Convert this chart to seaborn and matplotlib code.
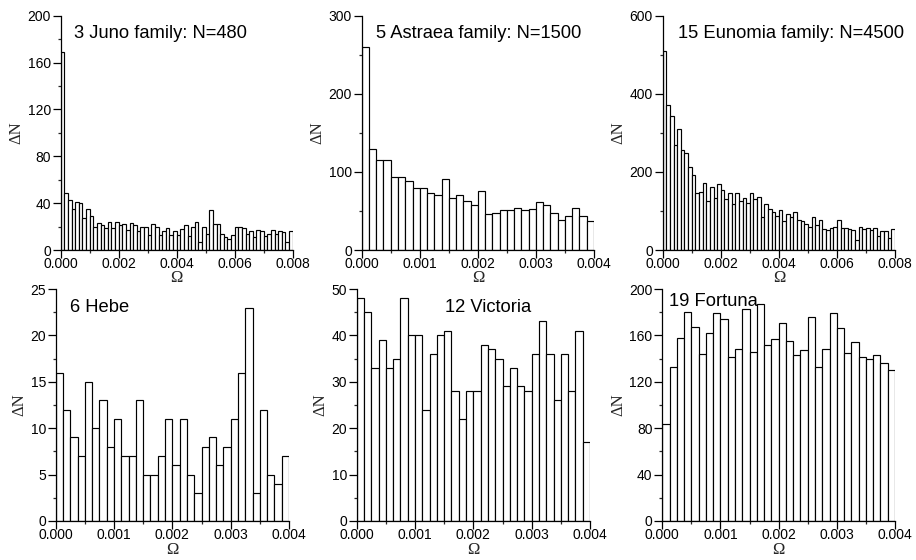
import numpy as np
import pandas as pd
import matplotlib
matplotlib.use("Agg")
import matplotlib.pyplot as plt
from matplotlib.ticker import MultipleLocator, FormatStrFormatter
import seaborn as sns

# ---------------- data (counts per bin) ----------------
juno_counts = [169, 49, 43, 35, 41, 40, 27, 35, 29, 20, 23, 21, 19, 24, 19, 24,
               21, 22, 17, 23, 21, 16, 20, 20, 13, 22, 20, 13, 16, 19, 13, 16,
               13, 18, 21, 12, 20, 24, 7, 20, 14, 34, 22, 22, 14, 11, 9, 13,
               20, 20, 19, 14, 16, 11, 17, 16, 12, 14, 17, 14, 16, 15, 7, 16]
astraea_counts = [260, 129, 115, 115, 94, 94, 88, 80, 79, 73, 70, 91, 67, 70, 63, 57,
                  75, 46, 47, 51, 51, 54, 51, 53, 61, 58, 48, 39, 43, 54, 43, 37]
eunomia_counts = [510, 372, 343, 268, 311, 257, 249, 213, 192, 146, 149, 172, 126, 161, 133, 170,
                  153, 130, 145, 118, 145, 125, 133, 120, 146, 130, 135, 85, 117, 106, 98, 88,
                  103, 74, 91, 84, 97, 76, 73, 66, 58, 85, 65, 76, 53, 51, 56, 59,
                  76, 56, 56, 53, 50, 26, 58, 55, 56, 52, 56, 36, 48, 48, 31, 53]
hebe_counts = [16, 12, 9, 7, 15, 10, 13, 8, 11, 7, 7, 13, 5, 5, 7, 11,
               6, 11, 5, 3, 8, 9, 6, 8, 11, 16, 23, 3, 12, 5, 4, 7]
victoria_counts = [48, 45, 33, 39, 33, 35, 48, 40, 40, 24, 36, 40, 41, 28, 22, 28,
                   28, 38, 37, 35, 29, 33, 29, 28, 36, 43, 36, 26, 36, 28, 41, 17]
fortuna_counts = [84, 133, 158, 180, 167, 144, 162, 179, 174, 141, 148, 183, 146, 187, 152, 157,
                  171, 155, 143, 147, 176, 133, 148, 179, 166, 145, 154, 141, 140, 143, 136, 130]

titles = ["3 Juno family: N=480", "5 Astraea family: N=1500", "15 Eunomia family: N=4500",
          "6 Hebe", "12 Victoria", "19 Fortuna"]
omega_max = [0.008, 0.004, 0.008, 0.004, 0.004, 0.004]
y_max = [200, 300, 600, 25, 50, 200]
y_major = [40, 100, 200, 5, 10, 40]
x_major = [0.002, 0.001, 0.002, 0.001, 0.001, 0.001]
all_counts = [juno_counts, astraea_counts, eunomia_counts,
              hebe_counts, victoria_counts, fortuna_counts]

# ---------------- layout (pixels) ----------------
W, H = 916, 560
sns.set_style("ticks")
plt.rcParams["font.family"] = ["Liberation Sans", "DejaVu Sans"]
plt.rcParams["axes.linewidth"] = 0.9

fig = plt.figure(figsize=(W / 100, H / 100), dpi=100)

rects_px = [
    (60.7, 15.7, 232.0, 234.3),
    (361.7, 15.7, 232.3, 234.3),
    (662.7, 15.7, 232.3, 234.3),
    (55.7, 289.0, 233.3, 232.0),
    (356.7, 289.0, 233.3, 232.0),
    (662.3, 289.0, 232.7, 232.0),
]
title_pos = [(0.057, 0.925), (0.06, 0.925), (0.064, 0.925),
             (0.061, 0.92), (0.38, 0.92), (0.03, 0.948)]
xlabel_pad = [-0.5, -0.5, -0.5, 0.0, 0.0, 0.0]

for i, counts in enumerate(all_counts):
    x0, y0, w, h = rects_px[i]
    ax = fig.add_axes([x0 / W, 1 - (y0 + h) / H, w / W, h / H])
    n = len(counts)
    bw = omega_max[i] / n
    centers = (np.arange(n) + 0.5) * bw
    df = pd.DataFrame({"omega": centers, "count": counts})
    sns.histplot(data=df, x="omega", weights="count", bins=n,
                 binrange=(0, omega_max[i]), ax=ax,
                 color="white", edgecolor="black", linewidth=0.85, alpha=1.0)
    ax.set_xlim(0, omega_max[i])
    ax.set_ylim(0, y_max[i])
    sns.despine(ax=ax)
    ax.xaxis.set_major_locator(MultipleLocator(x_major[i]))
    ax.xaxis.set_minor_locator(MultipleLocator(x_major[i] / 2))
    ax.yaxis.set_major_locator(MultipleLocator(y_major[i]))
    ax.yaxis.set_minor_locator(MultipleLocator(y_major[i] / 2))
    ax.xaxis.set_major_formatter(FormatStrFormatter("%.3f"))
    ax.tick_params(axis="both", which="major", direction="out", length=5.5,
                   width=0.9, labelsize=10, colors="black")
    ax.tick_params(axis="y", which="major", pad=1.5)
    ax.tick_params(axis="x", which="major", pad=-0.5)
    ax.tick_params(axis="both", which="minor", direction="out", length=2.5,
                   width=0.9)
    ax.set_xlabel("Ω", family=["Liberation Serif", "DejaVu Serif"], fontsize=12,
                  labelpad=xlabel_pad[i])
    ax.set_ylabel("ΔN", family=["Liberation Serif", "DejaVu Serif"], fontsize=12,
                  labelpad=2)
    ax.text(title_pos[i][0], title_pos[i][1], titles[i], transform=ax.transAxes,
            fontsize=13.2, ha="left", va="center", color="black")
    for sp in ax.spines.values():
        sp.set_color("black")

fig.savefig("out.png", dpi=100)
